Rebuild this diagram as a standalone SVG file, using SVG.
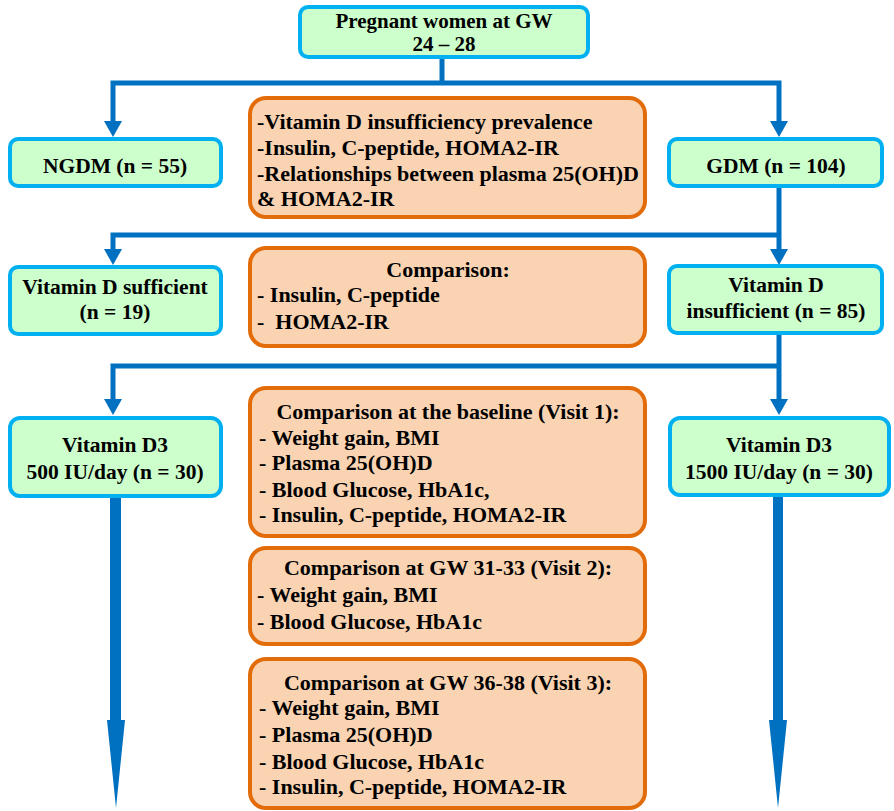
<svg xmlns="http://www.w3.org/2000/svg" width="894" height="811" viewBox="0 0 894 811">
<defs>
<style>
.node rect{fill:#CCFFCC;stroke:#00B0F0;stroke-width:4}
.note rect{fill:#F9D3B2;stroke:#E36C0A;stroke-width:4}
text{font-family:"Liberation Serif","Times New Roman",serif;font-weight:bold;font-size:21.5px;fill:#000}
.note text{font-size:22px}
.c{text-anchor:middle}
.conn line,.conn path.l{stroke:#0070C0;stroke-width:5;fill:none}
.conn polygon{fill:#0070C0}
</style>
</defs>
<rect width="894" height="811" fill="#fff"/>

<g id="connectors" class="conn">
<line x1="442" y1="58" x2="442" y2="83"/>
<path class="l" d="M113,121 V83 H779 V121"/>
<polygon points="104,121 122,121 113,137"/>
<polygon points="770,121 788,121 779,137"/>
<line x1="779" y1="187" x2="779" y2="250"/>
<path class="l" d="M113,250 V235 H779"/>
<polygon points="104,249 122,249 113,265"/>
<polygon points="770,249 788,249 779,265"/>
<line x1="779" y1="333" x2="779" y2="400"/>
<path class="l" d="M113,400 V366 H779"/>
<polygon points="104,399 122,399 113,415"/>
<polygon points="770,399 788,399 779,415"/>
<polygon points="110,497 121,497 121,720 125,720 116,808 107,720 110,720"/>
<polygon points="773,496 783,496 783,720 787,720 778,808 769,720 773,720"/>
</g>

<g id="n-pregnant" class="node">
<rect x="300" y="7" width="288" height="50" rx="8"/>
<text class="c" x="444" y="28" style="font-size:21px">Pregnant women at GW</text>
<text class="c" x="444" y="51" style="font-size:21px">24 – 28</text>
</g>

<g id="n-ngdm" class="node">
<rect x="10" y="139" width="211" height="47" rx="8"/>
<text class="c" x="115" y="173">NGDM (n = 55)</text>
</g>

<g id="n-gdm" class="node">
<rect x="669" y="139" width="213" height="47" rx="8"/>
<text class="c" x="776" y="173">GDM (n = 104)</text>
</g>

<g id="o-summary" class="note">
<rect x="250" y="98" width="395" height="119" rx="16"/>
<text x="257" y="129">-Vitamin D insufficiency prevalence</text>
<text x="257" y="155">-Insulin, C-peptide, HOMA2-IR</text>
<text x="257" y="181">-Relationships between plasma 25(OH)D</text>
<text x="257" y="206">&amp; HOMA2-IR</text>
</g>

<g id="n-vdsuff" class="node">
<rect x="10" y="267" width="211" height="67" rx="8"/>
<text class="c" x="115" y="294">Vitamin D sufficient</text>
<text class="c" x="115" y="319">(n = 19)</text>
</g>

<g id="o-comparison" class="note">
<rect x="250" y="248" width="395" height="98" rx="16"/>
<text class="c" x="448" y="277">Comparison:</text>
<text x="257" y="302">- Insulin, C-peptide</text>
<text x="257" y="329" xml:space="preserve">-  HOMA2-IR</text>
</g>

<g id="n-vdinsuff" class="node">
<rect x="669" y="266" width="213" height="67" rx="8"/>
<text class="c" x="776" y="292">Vitamin D</text>
<text class="c" x="776" y="318">insufficient (n = 85)</text>
</g>

<g id="n-d500" class="node">
<rect x="10" y="418" width="211" height="78" rx="10"/>
<text class="c" x="115" y="452">Vitamin D3</text>
<text class="c" x="115" y="479">500 IU/day (n = 30)</text>
</g>

<g id="n-d1500" class="node">
<rect x="670" y="418" width="219" height="77" rx="10"/>
<text class="c" x="779" y="452">Vitamin D3</text>
<text class="c" x="779" y="479">1500 IU/day (n = 30)</text>
</g>

<g id="o-visit1" class="note">
<rect x="250" y="388" width="395" height="148" rx="16"/>
<text class="c" x="448" y="419">Comparison at the baseline (Visit 1):</text>
<text x="259" y="445">- Weight gain, BMI</text>
<text x="259" y="470">- Plasma 25(OH)D</text>
<text x="259" y="497">- Blood Glucose, HbA1c,</text>
<text x="259" y="522">- Insulin, C-peptide, HOMA2-IR</text>
</g>

<g id="o-visit2" class="note">
<rect x="250" y="548" width="395" height="96" rx="16"/>
<text class="c" x="448" y="575">Comparison at GW 31-33 (Visit 2):</text>
<text x="257" y="602">- Weight gain, BMI</text>
<text x="257" y="629">- Blood Glucose, HbA1c</text>
</g>

<g id="o-visit3" class="note">
<rect x="250" y="659" width="395" height="149" rx="16"/>
<text class="c" x="448" y="690">Comparison at GW 36-38 (Visit 3):</text>
<text x="259" y="715">- Weight gain, BMI</text>
<text x="259" y="742">- Plasma 25(OH)D</text>
<text x="259" y="769">- Blood Glucose, HbA1c</text>
<text x="259" y="794">- Insulin, C-peptide, HOMA2-IR</text>
</g>
</svg>
